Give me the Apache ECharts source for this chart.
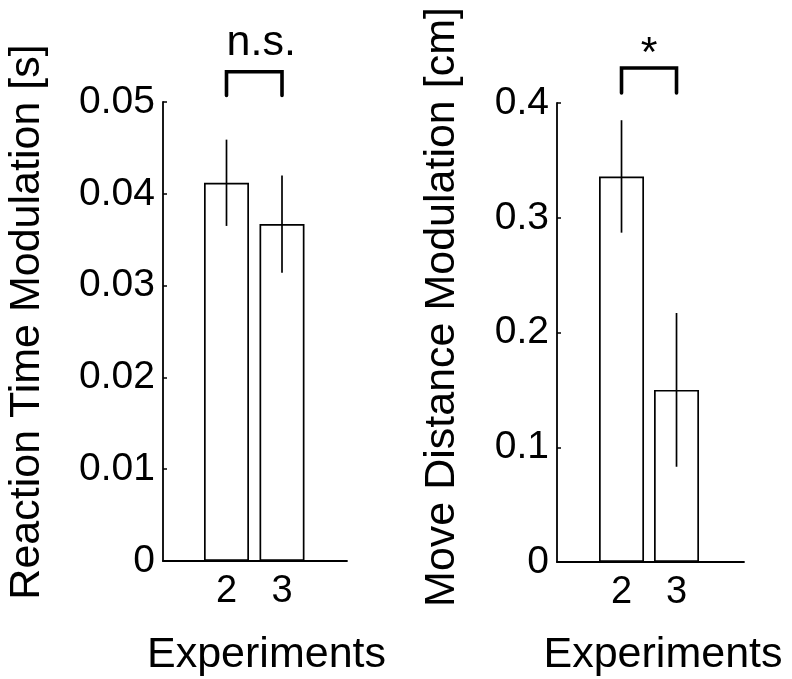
<!DOCTYPE html>
<html>
<head>
<meta charset="utf-8">
<script src="https://cdn.jsdelivr.net/npm/echarts@6/dist/echarts.min.js"></script>
<style>
html,body{margin:0;padding:0;background:#fff;}
#chart{width:792px;height:679px;}
</style>
</head>
<body>
<div id="chart"></div>
<script>
// ---- data ----
const expCats = [2, 3];
const rtMean = [0.0412, 0.0367];
const rtErr = [0.0047, 0.0053];
const mdMean = [0.336, 0.150];
const mdErr = [0.049, 0.067];
const rtTicks = [0, 0.01, 0.02, 0.03, 0.04, 0.05];
const mdTicks = [0, 0.1, 0.2, 0.3, 0.4];
const sigLabels = ['n.s.', '*'];
const bracketLow = [0.0507, 0.4087];
const bracketHigh = [0.0533, 0.4305];
const yTitles = ['Reaction Time Modulation [s]', 'Move Distance Modulation [cm]'];
const xTitle = 'Experiments';

const FONT = '"Liberation Sans", Arial, Helvetica, sans-serif';
const chart = echarts.init(document.getElementById('chart'), null, {renderer: 'canvas'});

function errRender(params, api) {
  const x = api.value(0), lo = api.value(1), hi = api.value(2);
  const p1 = api.coord([x, lo]);
  const p2 = api.coord([x, hi]);
  return {type: 'line', shape: {x1: p1[0], y1: p1[1], x2: p2[0], y2: p2[1]},
    style: {stroke: '#000', lineWidth: 1.7}};
}
function bracketRender(label) {
  return function (params, api) {
    const xa = api.value(0), xb = api.value(1), lo = api.value(2), hi = api.value(3);
    const a = api.coord([xa, lo]), b = api.coord([xa, hi]), c = api.coord([xb, hi]), d = api.coord([xb, lo]);
    const isStar = label === '*';
    return {type: 'group', children: [
      {type: 'polyline', shape: {points: [a, b, c, d]},
        style: {stroke: '#000', lineWidth: 3.6, fill: null, lineCap: 'round', lineJoin: 'miter'}},
      {type: 'text', x: (b[0] + c[0]) / 2 + (isStar ? 0 : 7), y: b[1] + (isStar ? -14 : -29),
        style: {text: label, font: '43px ' + FONT, fill: '#000', align: 'center', verticalAlign: 'middle'}}
    ]};
  };
}

const grids = [
  {left: 163, top: 102, width: 184, height: 459},
  {left: 557, top: 103, width: 187, height: 459}
];
const xRanges = [[0.856, 4.171], [0.827, 4.227]];
const yMax = [rtTicks[rtTicks.length - 1], mdTicks[mdTicks.length - 1]];
const yInt = [rtTicks[1] - rtTicks[0], mdTicks[1] - mdTicks[0]];
const means = [rtMean, mdMean];
const errs = [rtErr, mdErr];

const xAxes = [], yAxes = [], series = [];
for (let k = 0; k < 2; k++) {
  xAxes.push({
    type: 'value', gridIndex: k, min: xRanges[k][0], max: xRanges[k][1],
    axisLine: {show: true, lineStyle: {color: '#000', width: 1.8}},
    axisTick: {show: false},
    splitLine: {show: false},
    axisLabel: {customValues: expCats, margin: 12, color: '#000', fontSize: 38, fontFamily: FONT,
      formatter: v => String(v)}
  });
  yAxes.push({
    type: 'value', gridIndex: k, min: 0, max: yMax[k], interval: yInt[k],
    axisLine: {show: true, lineStyle: {color: '#000', width: 1.8}},
    axisTick: {show: true, inside: true, length: 4, lineStyle: {color: '#000', width: 1.5}},
    splitLine: {show: false},
    axisLabel: {margin: 8, color: '#000', fontSize: 39, fontFamily: FONT,
      formatter: v => String(+v.toFixed(3))}
  });
  series.push({
    type: 'bar', xAxisIndex: k, yAxisIndex: k, barWidth: 45,
    data: expCats.map((c, i) => [c, means[k][i]]),
    itemStyle: {color: '#fff', borderColor: '#000', borderWidth: 1.7},
    silent: true, animation: false
  });
  series.push({
    type: 'custom', xAxisIndex: k, yAxisIndex: k, renderItem: errRender, z: 5,
    encode: {x: 0, y: [1, 2]},
    data: expCats.map((c, i) => [c, means[k][i] - errs[k][i], means[k][i] + errs[k][i]]),
    silent: true, animation: false, clip: false
  });
  series.push({
    type: 'custom', xAxisIndex: k, yAxisIndex: k, renderItem: bracketRender(sigLabels[k]), z: 5,
    encode: {x: [0, 1], y: [2, 3]},
    data: [[expCats[0], expCats[1], bracketLow[k], bracketHigh[k]]],
    silent: true, animation: false, clip: false
  });
}

const titleFont = '43px ' + FONT;
chart.setOption({
  backgroundColor: '#fff',
  animation: false,
  grid: grids,
  xAxis: xAxes,
  yAxis: yAxes,
  series: series,
  graphic: [
    {type: 'text', x: 27, y: 322, rotation: Math.PI / 2,
      style: {text: yTitles[0], font: titleFont, fill: '#000', align: 'center', verticalAlign: 'middle'}},
    {type: 'text', x: 442, y: 307, rotation: Math.PI / 2,
      style: {text: yTitles[1], font: titleFont, fill: '#000', align: 'center', verticalAlign: 'middle'}},
    {type: 'text', x: 266.5, y: 655,
      style: {text: xTitle, font: titleFont, fill: '#000', align: 'center', verticalAlign: 'middle'}},
    {type: 'text', x: 663, y: 655,
      style: {text: xTitle, font: titleFont, fill: '#000', align: 'center', verticalAlign: 'middle'}}
  ]
});
</script>
</body>
</html>
